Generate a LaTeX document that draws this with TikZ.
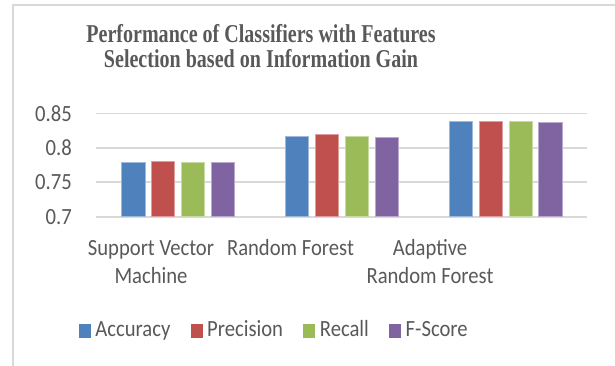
\documentclass[tikz,border=0pt]{standalone}
\usepackage{fontspec}
\setmainfont{Carlito}[FakeStretch=0.89]
\newfontfamily\titlefont{Liberation Serif}[FakeStretch=0.78]
\usepackage{xcolor}
\usepackage{tikz}
\usetikzlibrary{positioning}

\definecolor{accblue}{HTML}{4F81BD}
\definecolor{precred}{HTML}{C0504D}
\definecolor{recgreen}{HTML}{9BBB59}
\definecolor{fscpurple}{HTML}{8064A2}
\definecolor{txtgrey}{HTML}{595959}
\definecolor{gridgrey}{HTML}{D9D9D9}

\newcommand\axisfont{\fontsize{23.2}{28.3}\selectfont}

\begin{document}
\begin{tikzpicture}[x=1pt,y=-1pt,
	every node/.style={text=txtgrey,inner sep=0pt},
	ylab/.style={anchor=east,font=\axisfont},
	catlab/.style={anchor=base,align=center,font=\axisfont},
	legbox/.style={minimum width=12pt,minimum height=13.4pt},
	legtxt/.style={anchor=west,font=\axisfont,text height=15pt,text depth=4pt}]
	\useasboundingbox (0,0) rectangle (615,366);
	\draw[gridgrey,line width=1.6pt] (13,366)--(13,5)--(615,5);
	
	% title, base = last line
	\node[anchor=base,align=center,font=\titlefont\bfseries\fontsize{25.7}{25.3}\selectfont] (title) at (261,68)
		{Performance of Classifiers with Features\\Selection based on Information Gain};
	
	\foreach \g [count=\k] in {0.7,0.75,0.8,0.85}{
		\draw[gridgrey,line width=1.6pt] (96,{216.7-(\g-0.7)*688})--(587,{216.7-(\g-0.7)*688});
		\node[ylab] (y\k) at (72,{216.7-(\g-0.7)*688}) {\g};
	}
	
	\foreach \n/\a/\b/\r/\f in {0/0.779/0.781/0.779/0.779,1/0.817/0.820/0.817/0.816,2/0.838/0.839/0.838/0.837}{
		\foreach \v/\c [count=\i from 0] in {\a/accblue,\b/precred,\r/recgreen,\f/fscpurple}{
			\pgfmathsetmacro\xl{121.7+\n*163.8+\i*29.8}
			\filldraw[fill=\c,draw=\c!55!white,line width=0.7pt] (\xl,216.7) rectangle ({\xl+23.3},{216.7-(\v-0.7)*688});
		}
	}
	
	\node[catlab] (svm) at (151,283.3) {Support Vector\\Machine};
	\node[catlab] (rf) at (290.5,255) {Random Forest};
	\node[catlab] (arf) at (430,283.3) {Adaptive\\Random Forest};
	
	\node[legbox,fill=accblue] (kacc) at (85,331) {};
	\node[legtxt,right=4pt of kacc] (tacc) {Accuracy};
	\node[legbox,fill=precred,right=20pt of tacc] (kprec) {};
	\node[legtxt,right=4pt of kprec] (tprec) {Precision};
	\node[legbox,fill=recgreen,right=20pt of tprec] (krec) {};
	\node[legtxt,right=4pt of krec] (trec) {Recall};
	\node[legbox,fill=fscpurple,right=20pt of trec] (kfsc) {};
	\node[legtxt,right=4pt of kfsc] (tfsc) {F-Score};
\end{tikzpicture}
\end{document}
